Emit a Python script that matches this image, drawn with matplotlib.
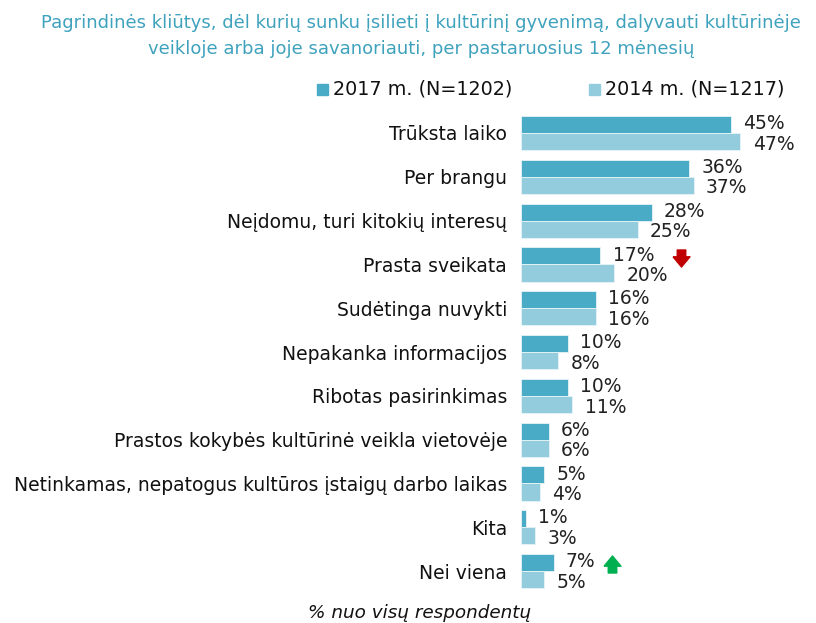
import matplotlib
matplotlib.use("Agg")
import matplotlib.pyplot as plt
import numpy as np

categories = ["Trūksta laiko", "Per brangu", "Neįdomu, turi kitokių interesų",
              "Prasta sveikata", "Sudėtinga nuvykti", "Nepakanka informacijos",
              "Ribotas pasirinkimas", "Prastos kokybės kultūrinė veikla vietovėje",
              "Netinkamas, nepatogus kultūros įstaigų darbo laikas", "Kita", "Nei viena"]
v2017 = [45, 36, 28, 17, 16, 10, 10, 6, 5, 1, 7]
v2014 = [47, 37, 25, 20, 16, 8, 11, 6, 4, 3, 5]
series_labels = ["2017 m. (N=1202)", "2014 m. (N=1217)"]
title = ("Pagrindinės kliūtys, dėl kurių sunku įsilieti į kultūrinį gyvenimą, dalyvauti kultūrinėje\n"
         "veikloje arba joje savanoriauti, per pastaruosius 12 mėnesių")
footer = "% nuo visų respondentų"

c17 = "#4aabc6"
c14 = "#93cddd"
title_color = "#3fa2bd"

W, H = 816, 623
fig = plt.figure(figsize=(W/100, H/100), dpi=100)
ax = fig.add_axes([521/W, 1-593/H, (816-521)/W, (593-110)/H])
y = np.arange(len(categories))
bh = 0.39
ax.barh(y - bh/2, v2017, height=bh, color=c17, edgecolor="#e8f4f8", linewidth=0.6)
ax.barh(y + bh/2, v2014, height=bh, color=c14, edgecolor="#e8f4f8", linewidth=0.6)
ax.set_xlim(0, (816-521)/4.67)
ax.set_ylim(10.5, -0.525)
for s in ax.spines.values():
    s.set_visible(False)
ax.set_xticks([])
ax.set_yticks(y)
ax.set_yticklabels(categories, fontsize=13.5, color="#111111")
ax.tick_params(axis="y", length=0, pad=10)

for i, (a, b) in enumerate(zip(v2017, v2014)):
    ax.text(a + 2.6, i - bh/2 - 0.02, f"{a}%", va="center", ha="left", fontsize=13.5, color="#222222")
    ax.text(b + 2.6, i + bh/2 + 0.06, f"{b}%", va="center", ha="left", fontsize=13.5, color="#222222")

arrow = [(-0.5, 0.1), (-0.25, 0.1), (-0.25, 0.5), (0.25, 0.5), (0.25, 0.1), (0.5, 0.1), (0, -0.5), (-0.5, 0.1)]
down = [(x, yy) for x, yy in arrow]
up = [(x, -yy) for x, yy in arrow]
ax.scatter([(681-521)/4.67], [3 - 0.15], marker=down, s=150, color="#c00000", clip_on=False)
ax.scatter([(612-521)/4.67], [10 - 0.17], marker=up, s=150, color="#00b050", clip_on=False)

fig.text(421/W, 1-36/H, title, ha="center", va="center", fontsize=13, color=title_color, linespacing=1.55)

# legend
fig.patches.append(plt.Rectangle((317/W, 1-95/H), 11/W, 11/H, transform=fig.transFigure, color=c17))
fig.text(333/W, 1-89/H, series_labels[0], ha="left", va="center", fontsize=13.8, color="#111111")
fig.patches.append(plt.Rectangle((589/W, 1-95/H), 11/W, 11/H, transform=fig.transFigure, color=c14))
fig.text(605/W, 1-89/H, series_labels[1], ha="left", va="center", fontsize=13.8, color="#111111")

fig.text(420/W, 1-613/H, footer, ha="center", va="center", fontsize=13.2, style="italic", color="#111111")

fig.savefig("out.png", dpi=100)
